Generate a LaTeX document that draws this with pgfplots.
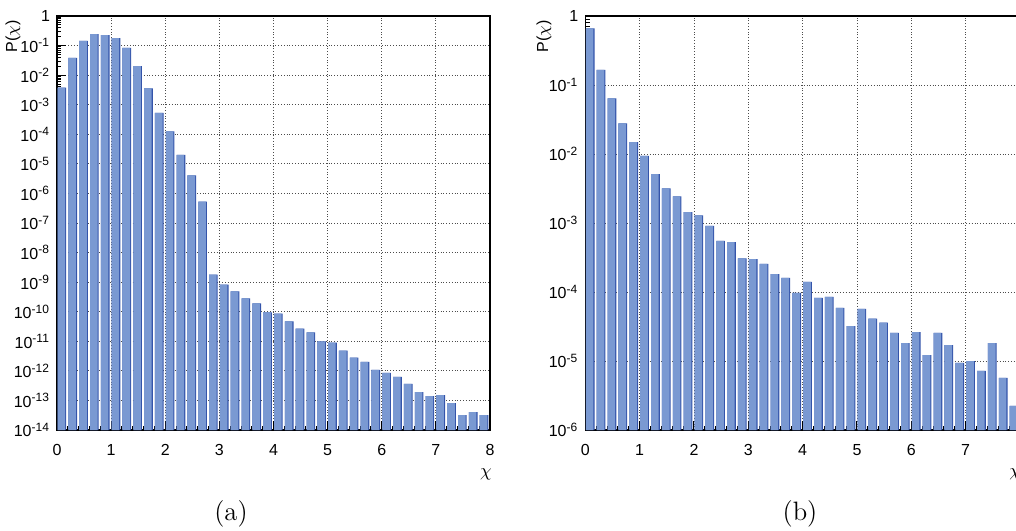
\documentclass[border=0pt]{standalone}
\usepackage{fontspec}
\usepackage{pgfplots}
\usepackage{pgfplotstable}
\pgfplotsset{compat=1.18}
\newfontfamily\arial{Liberation Sans}
\definecolor{barfill}{RGB}{122,153,210}
\definecolor{baredge}{RGB}{52,84,170}
\newcommand\E[1]{10\textsuperscript{#1}}

\def\minorA{}
\foreach \e in {-14,...,-1}{\foreach \m in {2,...,9}{\xdef\minorA{\minorA\m e\e,}}}
\xdef\minorA{\minorA 1}
\def\minorB{}
\foreach \e in {-6,...,-1}{\foreach \m in {2,...,9}{\xdef\minorB{\minorB\m e\e,}}}
\xdef\minorB{\minorB 1}
\edef\tmp{\noexpand\pgfplotsset{minorAstyle/.style={minor ytick={\minorA}},minorBstyle/.style={minor ytick={\minorB}}}}
\tmp

\pgfplotsset{
  layers/mine/.define layer set={axis background,axis grid,main,axis ticks,axis lines,axis tick labels,axis descriptions,axis foreground}{},
}

\pgfplotstableread{
x y
0.0 3.8e-3
0.2 0.038
0.4 0.145
0.6 0.245
0.8 0.226
1.0 0.18
1.2 0.083
1.4 0.020
1.6 3.6e-3
1.8 5.3e-4
2.0 1.26e-4
2.2 2.0e-5
2.4 4.1e-6
2.6 5.3e-7
2.8 1.8e-9
3.0 8.3e-10
3.2 4.9e-10
3.4 2.8e-10
3.6 1.9e-10
3.8 9.5e-11
4.0 8.7e-11
4.2 4.7e-11
4.4 2.7e-11
4.6 2.0e-11
4.8 1.0e-11
5.0 9.1e-12
5.2 4.8e-12
5.4 2.8e-12
5.6 2.0e-12
5.8 1.07e-12
6.0 8.5e-13
6.2 6.3e-13
6.4 3.6e-13
6.6 1.9e-13
6.8 1.4e-13
7.0 1.5e-13
7.2 8.1e-14
7.4 3.2e-14
7.6 4.0e-14
7.8 3.2e-14
}\dataA

\pgfplotstableread{
x y
0.0 0.66
0.2 0.165
0.4 0.064
0.6 0.0279
0.8 0.0149
1.0 0.0094
1.2 0.0051
1.4 0.00318
1.6 0.00244
1.8 0.00144
2.0 0.00129
2.2 9.1e-4
2.4 5.5e-4
2.6 5.3e-4
2.8 3.07e-4
3.0 3.0e-4
3.2 2.55e-4
3.4 1.82e-4
3.6 1.6e-4
3.8 9.7e-5
4.0 1.4e-4
4.2 8.2e-5
4.4 8.5e-5
4.6 5.9e-5
4.8 3.2e-5
5.0 5.7e-5
5.2 4.1e-5
5.4 3.6e-5
5.6 2.55e-5
5.8 1.82e-5
6.0 2.63e-5
6.2 1.22e-5
6.4 2.55e-5
6.6 1.7e-5
6.8 9.4e-6
7.0 1.0e-5
7.2 7.2e-6
7.4 1.82e-5
7.6 5.7e-6
7.8 2.23e-6
}\dataB

\begin{document}
\begin{tikzpicture}
\begin{axis}[
  set layers=mine,
  anchor=south west, scale only axis,
  at={(28.5pt,-215pt)}, width=216.5pt, height=207pt,
  xmin=0, xmax=8, ymode=log, log origin y=infty,
  ymin=1e-14, ymax=1,
  xtick={0,...,8}, minor x tick num=4,
  xticklabels={0,1,2,3,4,5,6,7,8},
  xtick pos=lower, ytick pos=left,
  grid=major,
  major grid style={densely dotted, black!70, line width=0.45pt},
  tick style={black, line width=0.5pt},
  major tick length=4.5pt, minor tick length=2.2pt,
  axis line style={line width=0.7pt},
  ticklabel style={font=\arial\fontsize{8}{9}\selectfont},
  xticklabel style={yshift=-3.5pt},
  ytick={1e-14,1e-13,1e-12,1e-11,1e-10,1e-9,1e-8,1e-7,1e-6,1e-5,1e-4,1e-3,1e-2,1e-1,1},
  yticklabels={\E{-14},\E{-13},\E{-12},\E{-11},\E{-10},\E{-9},\E{-8},\E{-7},\E{-6},\E{-5},\E{-4},\E{-3},\E{-2},\E{-1},1},
  minorAstyle,
]
\addplot[ybar, bar width=0.16, bar shift=0pt, fill=baredge, draw=none] table[x expr=\thisrow{x}+0.09, y=y] {\dataA};
\addplot[ybar, bar width=0.14, bar shift=0pt, fill=barfill, draw=none] table[x expr=\thisrow{x}+0.08, y=y] {\dataA};
\end{axis}
\begin{axis}[
  set layers=mine,
  anchor=south west, scale only axis,
  at={(292.65pt,-215pt)}, width=217.35pt, height=207pt,
  xmin=0, xmax=8, ymode=log, log origin y=infty,
  ymin=1e-6, ymax=1,
  xtick={0,...,8}, minor x tick num=4,
  xticklabels={0,1,2,3,4,5,6,7,8},
  xtick pos=lower, ytick pos=left,
  grid=major,
  major grid style={densely dotted, black!70, line width=0.45pt},
  tick style={black, line width=0.5pt},
  major tick length=4.5pt, minor tick length=2.2pt,
  axis line style={line width=0.7pt},
  ticklabel style={font=\arial\fontsize{8}{9}\selectfont},
  xticklabel style={yshift=-3.5pt},
  ytick={1e-6,1e-5,1e-4,1e-3,1e-2,1e-1,1},
  yticklabels={\E{-6},\E{-5},\E{-4},\E{-3},\E{-2},\E{-1},1},
  minorBstyle,
]
\addplot[ybar, bar width=0.16, bar shift=0pt, fill=baredge, draw=none] table[x expr=\thisrow{x}+0.09, y=y] {\dataB};
\addplot[ybar, bar width=0.14, bar shift=0pt, fill=barfill, draw=none] table[x expr=\thisrow{x}+0.08, y=y] {\dataB};
\end{axis}
\node[rotate=90, anchor=east, font=\arial\fontsize{8}{9}\selectfont, inner sep=0pt] at (6.5pt,-10pt) {P($\chi$)};
\node[rotate=90, anchor=east, font=\arial\fontsize{8}{9}\selectfont, inner sep=0pt] at (272pt,-10pt) {P($\chi$)};
\node[font=\fontsize{9}{10}\selectfont, inner sep=0pt] at (243pt,-237pt) {$\chi$};
\node[font=\fontsize{9}{10}\selectfont, inner sep=0pt] at (507.5pt,-237pt) {$\chi$};
\node[anchor=base, font=\fontsize{13.3}{15}\selectfont, inner sep=0pt] at (115.5pt,-260.3pt) {(a)};
\node[anchor=base, font=\fontsize{13.3}{15}\selectfont, inner sep=0pt] at (400pt,-260.3pt) {(b)};
\pgfresetboundingbox
\path[use as bounding box] (0,0) rectangle (508pt,-265pt);
\end{tikzpicture}
\end{document}
